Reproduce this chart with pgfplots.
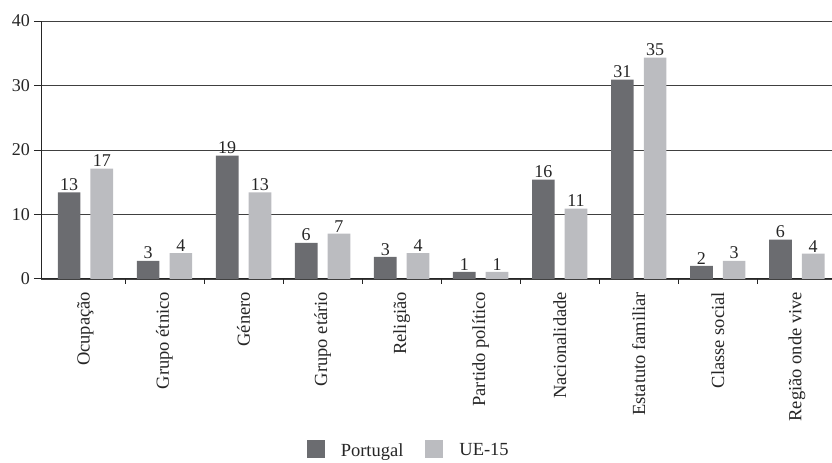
\documentclass[border=0pt]{standalone}
\usepackage{fontspec}
\setmainfont{Liberation Serif}
\usepackage{pgfplots}
\usepackage{pgfplotstable}
\pgfplotsset{compat=1.18}
\definecolor{ptc}{HTML}{6B6C70}
\definecolor{uec}{HTML}{BBBCC0}
\pgfplotstableread{
x p u pl ul
0 13.4 17.1 13 17
1 2.8 4.0 3 4
2 19.1 13.4 19 13
3 5.6 7.0 6 7
4 3.4 4.0 3 4
5 1.1 1.1 1 1
6 15.4 10.9 16 11
7 30.9 34.3 31 35
8 2.0 2.8 2 3
9 6.1 3.9 6 4
}\datatab
\begin{document}
\fontsize{18}{20}\selectfont
\begin{tikzpicture}
\begin{axis}[
  name=ax,
  scale only axis, width=791pt, height=258pt,
  xmin=-0.563, xmax=9.44, ymin=0, ymax=40,
  ytick={0,10,20,30,40},
  ymajorgrids, grid style={black!75, line width=0.7pt},
  axis x line*=bottom, axis y line*=left,
  axis line style={line width=0.8pt, black!85},
  tick style={black!85, line width=0.8pt},
  xtick={0,...,9},
  xticklabels={Ocupação, Grupo étnico, Género, Grupo etário, Religião, Partido político, Nacionalidade, Estatuto familiar, Classe social, Região onde vive},
  major x tick style={draw=none},
  minor xtick={0.5,1.5,...,8.5},
  minor tick length=5pt, major tick length=7pt,
  tick align=outside,
  xticklabel style={rotate=90, anchor=east, font=\fontsize{18.5}{20}\selectfont, text=black!85},
  yticklabel style={font=\fontsize{18}{20}\selectfont, text=black!85, xshift=2pt},
  /pgf/number format/assume math mode=true,
  ybar, bar width=0.287,
  nodes near coords, point meta=explicit,
  nodes near coords style={font=\fontsize{18}{20}\selectfont, text=black!85, anchor=south, inner sep=1.5pt},
  legend style={at={(0.474,-0.665)}, anchor=center, draw=none, legend columns=2, font=\fontsize{18.5}{20}\selectfont, text=black!85,
    /tikz/every even column/.append style={column sep=6pt},
    nodes={inner xsep=16pt}},
]
\addplot[fill=ptc, draw=none, bar shift=-0.207, legend image code/.code={\fill[ptc] (0pt,-7pt) rectangle (18pt,11pt);}] table[x=x, y=p, meta=pl] {\datatab};
\addlegendentry{Portugal}
\addplot[fill=uec, draw=none, bar shift=0.207, legend image code/.code={\fill[uec] (0pt,-7pt) rectangle (18pt,11pt);}] table[x=x, y=u, meta=ul] {\datatab};
\addlegendentry{UE-15}
\end{axis}
\path ([xshift=-41pt,yshift=21pt]ax.north west) ([yshift=-180pt]ax.south east);
\end{tikzpicture}
\end{document}
